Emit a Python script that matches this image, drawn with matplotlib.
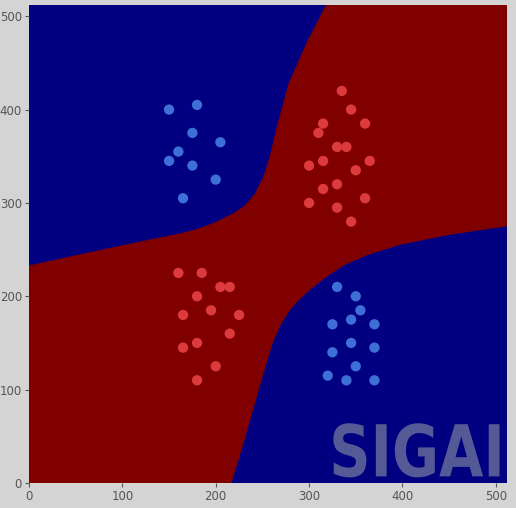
import numpy as np
import matplotlib
matplotlib.use("Agg")
from matplotlib import pyplot as plt
from matplotlib.textpath import TextPath
from matplotlib.patches import PathPatch
from matplotlib.font_manager import FontProperties
import matplotlib.transforms as mtransforms

# training samples (class +1 red, class -1 blue)
red_x = [335, 345, 315, 360, 310, 330, 340, 315, 300, 365, 350, 330, 315, 300, 360, 330, 345,
         160, 185, 205, 215, 180, 165, 195, 225, 215, 180, 165, 200, 180]
red_y = [420, 400, 385, 385, 375, 360, 360, 345, 340, 345, 335, 320, 315, 300, 305, 295, 280,
         225, 225, 210, 210, 200, 180, 185, 180, 160, 150, 145, 125, 110]
blue_x = [150, 180, 175, 205, 160, 150, 175, 200, 165,
          330, 350, 355, 345, 325, 370, 345, 325, 370, 350, 320, 340, 370]
blue_y = [400, 405, 375, 365, 355, 345, 340, 325, 305,
          210, 200, 185, 175, 170, 170, 150, 140, 145, 125, 115, 110, 110]

# decision boundary
upper_bx = [0, 41, 111, 165, 183, 201, 219, 231, 242, 251, 258, 265, 278, 297, 318]
upper_by = [233, 242, 257, 268, 273, 280, 289, 297, 310, 328, 350, 380, 428, 471, 512]
lower_bx = [217, 232, 247, 261, 270, 280, 290, 301, 319, 337, 362, 397, 451, 512]
lower_by = [0, 50, 103, 150, 170, 186, 197, 207, 221, 233, 244, 255, 266, 275]

fig = plt.figure(figsize=(5.16, 5.08), dpi=100, facecolor="#d4d4d4")
ax = fig.add_axes([29 / 516, 25 / 508, 478 / 516, 478 / 508])
ax.set_facecolor("#800000")

ax.fill(upper_bx + [0], upper_by + [512], color="#000080", lw=0)
ax.fill(lower_bx + [512], lower_by + [0], color="#000080", lw=0)

ax.scatter(red_x, red_y, s=55, c="#dc3a3c", edgecolors="none", zorder=3)
ax.scatter(blue_x, blue_y, s=55, c="#3d6fd6", edgecolors="none", zorder=3)

# watermark
tp = TextPath((0, 0), "SIGAI", size=1, prop=FontProperties(family="DejaVu Sans", weight="bold"))
bb = tp.get_extents()
tr = mtransforms.Affine2D().translate(-bb.x0, -bb.y0).scale(178 / bb.width, 58 / bb.height).translate(326, 6)
ax.add_patch(PathPatch(tr.transform_path(tp), fc="#555a96", ec="none", zorder=4))

ax.set_xlim(0, 512)
ax.set_ylim(0, 512)
ax.set_xticks(range(0, 501, 100))
ax.set_yticks(range(0, 501, 100))
for s in ax.spines.values():
    s.set_visible(False)
ax.tick_params(colors="#555555", labelsize=8.5, length=3, width=0.8, pad=2)

fig.savefig("out.png", dpi=100, facecolor=fig.get_facecolor())
